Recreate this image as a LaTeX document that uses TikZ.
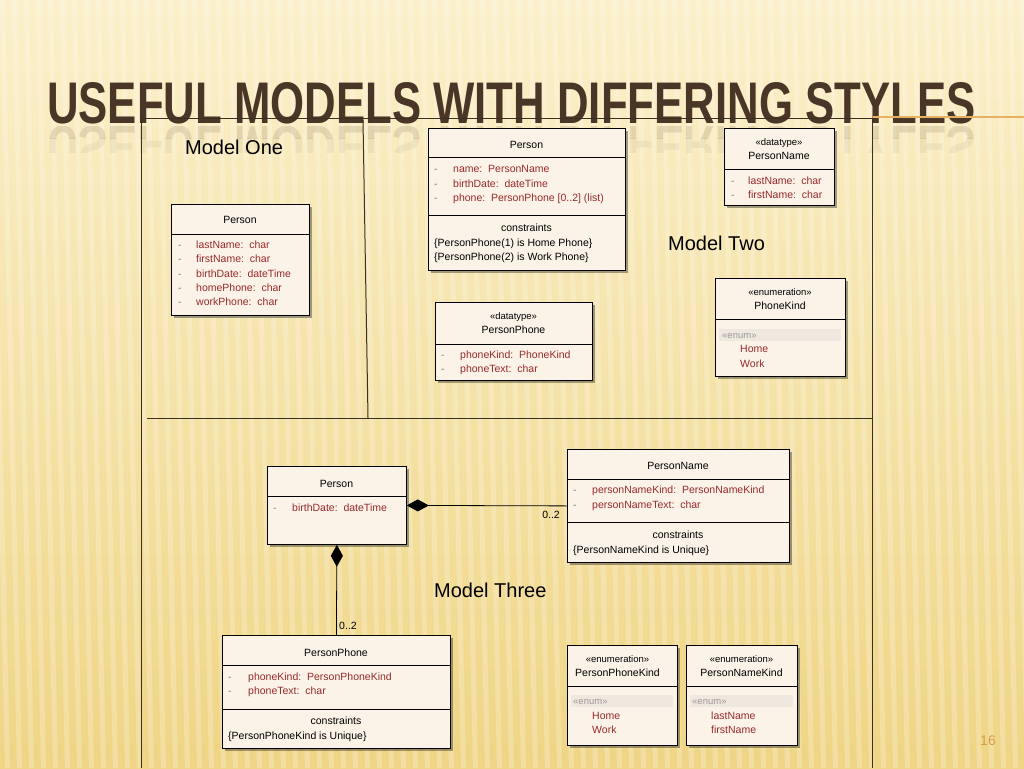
\documentclass[tikz,border=0pt]{standalone}
\usepackage{graphicx}
\usepackage{fontspec}
\setmainfont{Liberation Sans}
\usetikzlibrary{arrows.meta,shadows}
\definecolor{bgtop}{HTML}{FBF0CB}
\definecolor{bgbot}{HTML}{EFD585}
\definecolor{titlec}{HTML}{4A3626}
\definecolor{boxfill}{HTML}{FBF3E8}
\definecolor{attrc}{HTML}{962A2A}
\definecolor{dashc}{HTML}{7A7A7A}
\definecolor{enumc}{HTML}{9A9A9A}
\definecolor{bandc}{HTML}{EFE8DE}
\definecolor{framec}{HTML}{3A3020}
\definecolor{numc}{HTML}{D2A04A}
\definecolor{accent}{HTML}{E8B060}
\newcommand{\titletext}{\resizebox{928pt}{41pt}{\bfseries USEFUL MODELS WITH DIFFERING STYLES}}
\begin{document}
\begin{tikzpicture}[x=1pt,y=-1pt,
 umlbox/.style={draw=black, line width=0.8pt, fill=boxfill, inner sep=0, anchor=north west,
   drop shadow={shadow xshift=3pt, shadow yshift=-3pt, fill=black, opacity=0.35}},
 txt/.style={font=\fontsize{10.5}{12}\selectfont, inner sep=0, text height=9.5pt, text depth=2pt},
 hdr/.style={txt, anchor=center, text=black},
 attr/.style={txt, anchor=west, text=attrc},
 dsh/.style={txt, anchor=west, text=dashc},
 cons/.style={txt, anchor=west, text=black},
 stereo/.style={txt, anchor=center, text=black, font=\fontsize{9.5}{11}\selectfont},
 enumlbl/.style={txt, anchor=west, text=enumc, font=\fontsize{9.5}{11}\selectfont},
 band/.style={fill=bandc, draw=none},
 model/.style={font=\fontsize{20}{24}\selectfont, inner sep=0, anchor=west, text=black},
 mult/.style={txt, anchor=center, text=black},
 sepline/.style={line width=0.8pt},
 frameline/.style={draw=framec, line width=1pt},
 comp/.style={line width=0.8pt, {Diamond[length=22pt,width=12pt]}-}
]
\useasboundingbox (0,0) rectangle (1024,768);
% background
\fill[top color=bgtop, bottom color=bgbot] (0,0) rectangle (1024,768);
\begin{scope}
\clip (0,0) rectangle (1024,768);
\foreach \x in {-60,-48,...,1060} {
  \fill[white, opacity=0.22] (\x,0) -- (\x+5,0) -- (\x+22,768) -- (\x+17,768) -- cycle;
}
\end{scope}
% title
\node[anchor=south west, inner sep=0, text=titlec] (title) at (47,124) {\titletext};
\begin{scope}
\clip (0,126) rectangle (1024,138);
\node[anchor=north west, inner sep=0, text=titlec, opacity=0.13] (titlerefl) at (47,126) {\scalebox{1}[-1]{\titletext}};
\end{scope}
\begin{scope}
\clip (0,138) rectangle (1024,152);
\node[anchor=north west, inner sep=0, text=titlec, opacity=0.06] (titlerefl2) at (47,126) {\scalebox{1}[-1]{\titletext}};
\end{scope}
\draw[accent, line width=1.5pt] (873,117) -- (1024,117);
% frame
\draw[frameline] (141,768) -- (141,118) -- (872,118) -- (872,768);
\draw[frameline] (147,418) -- (872,418);
\draw[frameline] (363,120) -- (368,418);
% model labels
\node[model] (lbl1) at (185,147) {Model One};
\node[model] (lbl2) at (668,243) {Model Two};
\node[model] (lbl3) at (434,590) {Model Three};

% ===== Model One: Person =====
\node[umlbox, minimum width=138pt, minimum height=111pt] (m1p) at (171,204) {};
\node[hdr] (m1ph) at (240,220) {Person};
\draw[sepline] (171,234) -- (309,234);
\node[dsh] (m1d1) at (178,245) {-}; \node[attr] (m1a1) at (196,245) {lastName:\ \ char};
\node[dsh] (m1d2) at (178,259) {-}; \node[attr] (m1a2) at (196,259) {firstName:\ \ char};
\node[dsh] (m1d3) at (178,274) {-}; \node[attr] (m1a3) at (196,274) {birthDate:\ \ dateTime};
\node[dsh] (m1d4) at (178,288) {-}; \node[attr] (m1a4) at (196,288) {homePhone:\ \ char};
\node[dsh] (m1d5) at (178,302) {-}; \node[attr] (m1a5) at (196,302) {workPhone:\ \ char};

% ===== Model Two: Person =====
\node[umlbox, minimum width=197pt, minimum height=142pt] (m2p) at (428,128) {};
\node[hdr] (m2ph) at (526.5,145) {Person};
\draw[sepline] (428,157) -- (625,157);
\node[dsh] (m2d1) at (434,169) {-}; \node[attr] (m2a1) at (453,169) {name:\ \ PersonName};
\node[dsh] (m2d2) at (434,184) {-}; \node[attr] (m2a2) at (453,184) {birthDate:\ \ dateTime};
\node[dsh] (m2d3) at (434,198) {-}; \node[attr] (m2a3) at (453,198) {phone:\ \ PersonPhone [0..2] (list)};
\draw[sepline] (428,215) -- (625,215);
\node[hdr] (m2pc) at (526.5,228) {constraints};
\node[cons] (m2c1) at (434,243) {\{PersonPhone(1) is Home Phone\}};
\node[cons] (m2c2) at (434,257) {\{PersonPhone(2) is Work Phone\}};

% ===== Model Two: PersonName datatype =====
\node[umlbox, minimum width=110pt, minimum height=77pt] (m2n) at (724,128) {};
\node[stereo] (m2ns) at (779,142) {«datatype»};
\node[hdr] (m2nh) at (779,156) {PersonName};
\draw[sepline] (724,169) -- (834,169);
\node[dsh] (m2nd1) at (731,181) {-}; \node[attr] (m2na1) at (748,181) {lastName:\ \ char};
\node[dsh] (m2nd2) at (731,195) {-}; \node[attr] (m2na2) at (748,195) {firstName:\ \ char};

% ===== Model Two: PersonPhone datatype =====
\node[umlbox, minimum width=157pt, minimum height=78pt] (m2ph2) at (435,302) {};
\node[stereo] (m2pps) at (513.5,316) {«datatype»};
\node[hdr] (m2pph) at (513.5,330) {PersonPhone};
\draw[sepline] (435,344) -- (592,344);
\node[dsh] (m2ppd1) at (441,355) {-}; \node[attr] (m2ppa1) at (460,355) {phoneKind:\ \ PhoneKind};
\node[dsh] (m2ppd2) at (441,369) {-}; \node[attr] (m2ppa2) at (460,369) {phoneText:\ \ char};

% ===== Model Two: PhoneKind enumeration =====
\node[umlbox, minimum width=130pt, minimum height=98pt] (m2k) at (715,278) {};
\node[stereo] (m2ks) at (780,292) {«enumeration»};
\node[hdr] (m2kh) at (780,306) {PhoneKind};
\draw[sepline] (715,319) -- (845,319);
\fill[band] (719,329) rectangle (841,341);
\node[enumlbl] (m2ke) at (722,335) {«enum»};
\node[attr] (m2k1) at (740,349) {Home};
\node[attr] (m2k2) at (740,364) {Work};

% ===== Model Three: Person =====
\node[umlbox, minimum width=139pt, minimum height=78pt] (m3p) at (267,466) {};
\node[hdr] (m3ph) at (336.5,484) {Person};
\draw[sepline] (267,496) -- (406,496);
\node[dsh] (m3d1) at (273,508) {-}; \node[attr] (m3a1) at (292,508) {birthDate:\ \ dateTime};

% ===== Model Three: PersonName =====
\node[umlbox, minimum width=222pt, minimum height=113pt] (m3n) at (567,449) {};
\node[hdr] (m3nh) at (678,466) {PersonName};
\draw[sepline] (567,479) -- (789,479);
\node[dsh] (m3nd1) at (573,490) {-}; \node[attr] (m3na1) at (592,490) {personNameKind:\ \ PersonNameKind};
\node[dsh] (m3nd2) at (573,505) {-}; \node[attr] (m3na2) at (592,505) {personNameText:\ \ char};
\draw[sepline] (567,522) -- (789,522);
\node[hdr] (m3nc) at (678,535) {constraints};
\node[cons] (m3nc1) at (573,550) {\{PersonNameKind is Unique\}};

% ===== Model Three: PersonPhone =====
\node[umlbox, minimum width=228pt, minimum height=113pt] (m3pp) at (222,635) {};
\node[hdr] (m3pph) at (336,653) {PersonPhone};
\draw[sepline] (222,665) -- (450,665);
\node[dsh] (m3ppd1) at (228,677) {-}; \node[attr] (m3ppa1) at (248,677) {phoneKind:\ \ PersonPhoneKind};
\node[dsh] (m3ppd2) at (228,691) {-}; \node[attr] (m3ppa2) at (248,691) {phoneText:\ \ char};
\draw[sepline] (222,709) -- (450,709);
\node[hdr] (m3ppc) at (336,721) {constraints};
\node[cons] (m3ppc1) at (228,736) {\{PersonPhoneKind is Unique\}};

% ===== Model Three: PersonPhoneKind =====
\node[umlbox, minimum width=110pt, minimum height=100pt] (m3k1) at (567,645) {};
\node[stereo] (m3k1s) at (617.5,659) {«enumeration»};
\node[hdr] (m3k1h) at (617.5,673) {PersonPhoneKind};
\draw[sepline] (567,686) -- (677,686);
\fill[band] (571,695) rectangle (673,707);
\node[enumlbl] (m3k1e) at (573,701) {«enum»};
\node[attr] (m3k1a) at (592,716) {Home};
\node[attr] (m3k1b) at (592,730) {Work};

% ===== Model Three: PersonNameKind =====
\node[umlbox, minimum width=111pt, minimum height=100pt] (m3k2) at (686,645) {};
\node[stereo] (m3k2s) at (741.5,659) {«enumeration»};
\node[hdr] (m3k2h) at (741.5,673) {PersonNameKind};
\draw[sepline] (686,686) -- (797,686);
\fill[band] (690,695) rectangle (793,707);
\node[enumlbl] (m3k2e) at (692,701) {«enum»};
\node[attr] (m3k2a) at (711,716) {lastName};
\node[attr] (m3k2b) at (711,730) {firstName};

% connectors
\draw[comp] (m3p.east) -- (m3n.west);
\draw[comp] (m3p.south) -- (m3pp.north);
\node[mult] (mul1) at (551,515) {0..2};
\node[mult] (mul2) at (348,626) {0..2};

% page number
\node[font=\fontsize{14}{16}\selectfont, text=numc, inner sep=0] (pgnum) at (988,741) {16};
\end{tikzpicture}
\end{document}
